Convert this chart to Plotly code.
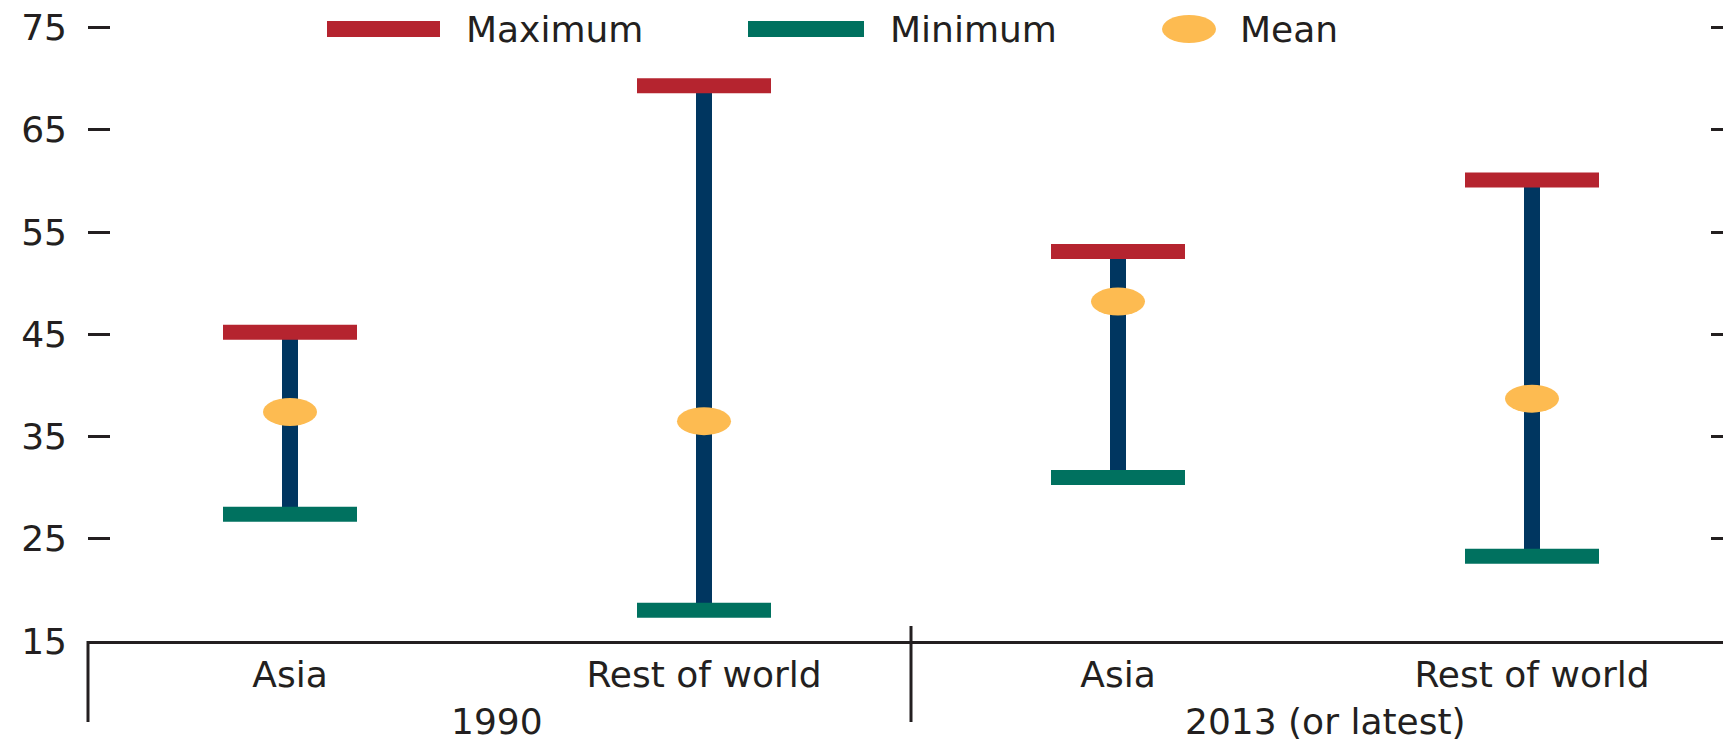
import plotly.graph_objects as go

# ---------------- data ----------------
regions = ["Asia", "Rest of world", "Asia", "Rest of world"]
periods = ["1990", "2013 (or latest)"]
maximum = [45.2, 69.3, 53.1, 60.1]
minimum = [27.4, 18.0, 31.0, 23.3]
mean = [37.4, 36.5, 48.2, 38.7]
y_ticks = [15, 25, 35, 45, 55, 65, 75]
legend_labels = ["Maximum", "Minimum", "Mean"]

# ---------------- geometry ----------------
OFF = 0  # body margin removed by post_script below
W, H = 1723 - OFF, 745 - OFF
Y_RANGE = [15, 75.15]
M_L, M_R, M_B = 88 - OFF, 0, H - (641 - OFF)
M_T = 26
PLOT_W = W - M_L - M_R
PLOT_H = H - M_T - M_B
PX_PER_X = 414.0
X0 = -((290 - OFF) - M_L) / PX_PER_X
X_RANGE = [X0, X0 + PLOT_W / PX_PER_X]
PX_PER_Y = PLOT_H / (Y_RANGE[1] - Y_RANGE[0])

RED = "#b5242f"
GREEN = "#00715f"
NAVY = "#003660"
GOLD = "#fdbb51"
TXT = "#231f20"
FONT = "DejaVu Sans"
FS = 36

CAP_HALF = 67 / PX_PER_X       # half width of max/min bars in x units
ELL_HX = 27 / PX_PER_X         # ellipse half width
ELL_HY = 14 / PX_PER_Y         # ellipse half height


def px_x(p):
    """reference-image x pixel -> paper coordinate"""
    return (p - OFF - M_L) / PLOT_W


def px_y(p):
    """reference-image y pixel (from top) -> paper coordinate"""
    return (H - M_B - (p - OFF)) / PLOT_H


pos = list(range(len(regions)))

fig = go.Figure()

# stems
sx, sy = [], []
for i in pos:
    sx += [i, i, None]
    sy += [minimum[i], maximum[i], None]
fig.add_trace(go.Scatter(x=sx, y=sy, mode="lines",
                         line=dict(color=NAVY, width=16), hoverinfo="skip",
                         showlegend=False))


def caps(vals, color, name):
    cx, cy = [], []
    for i in pos:
        cx += [i - CAP_HALF, i + CAP_HALF, None]
        cy += [vals[i], vals[i], None]
    fig.add_trace(go.Scatter(x=cx, y=cy, mode="lines", name=name,
                             line=dict(color=color, width=15),
                             showlegend=False))


caps(maximum, RED, "Maximum")
caps(minimum, GREEN, "Minimum")

# invisible trace for right axis
fig.add_trace(go.Scatter(x=[None], y=[None], yaxis="y2", showlegend=False))

shapes = []
# mean ellipses
for i in pos:
    shapes.append(dict(type="circle", xref="x", yref="y",
                       x0=i - ELL_HX, x1=i + ELL_HX,
                       y0=mean[i] - ELL_HY, y1=mean[i] + ELL_HY,
                       fillcolor=GOLD, line=dict(width=0), layer="above"))

# group dividers below axis
shapes.append(dict(type="line", xref="paper", yref="paper",
                   x0=0, x1=0, y0=0, y1=px_y(722),
                   line=dict(color=TXT, width=3)))
shapes.append(dict(type="line", xref="x", yref="paper",
                   x0=1.5, x1=1.5, y0=px_y(626), y1=px_y(722),
                   line=dict(color=TXT, width=3)))

# custom legend
shapes.append(dict(type="rect", xref="paper", yref="paper",
                   x0=px_x(327), x1=px_x(440), y0=px_y(37), y1=px_y(21),
                   fillcolor=RED, line=dict(width=0)))
shapes.append(dict(type="rect", xref="paper", yref="paper",
                   x0=px_x(748), x1=px_x(864), y0=px_y(37), y1=px_y(21),
                   fillcolor=GREEN, line=dict(width=0)))
shapes.append(dict(type="circle", xref="paper", yref="paper",
                   x0=px_x(1162), x1=px_x(1216), y0=px_y(43), y1=px_y(15),
                   fillcolor=GOLD, line=dict(width=0)))

annotations = []
for lab, xp in zip(legend_labels, [464, 888, 1238]):
    annotations.append(dict(text=lab, xref="paper", yref="paper",
                            x=px_x(xp), y=px_y(29), xanchor="left",
                            yanchor="middle", showarrow=False,
                            font=dict(family=FONT, size=FS, color=TXT)))

# period group labels
for k, per in enumerate(periods):
    annotations.append(dict(text=per, xref="x", yref="paper",
                            x=2 * k + 0.5, y=px_y(721), xanchor="center",
                            yanchor="middle", showarrow=False,
                            font=dict(family=FONT, size=FS, color=TXT)))

fig.update_layout(
    width=W, height=H,
    margin=dict(l=M_L, r=M_R, t=M_T, b=M_B, pad=0),
    paper_bgcolor="white", plot_bgcolor="white",
    font=dict(family=FONT, size=FS, color=TXT),
    showlegend=False,
    shapes=shapes, annotations=annotations,
    xaxis=dict(range=X_RANGE, tickvals=pos, ticktext=regions,
               ticks="", showgrid=False, zeroline=False,
               showline=True, linecolor=TXT, linewidth=2.5,
               ticklabelstandoff=0,
               tickfont=dict(family=FONT, size=FS, color=TXT)),
    yaxis=dict(range=Y_RANGE, tickvals=y_ticks, ticks="inside",
               ticklen=22, tickwidth=2.5, tickcolor=TXT,
               showgrid=False, zeroline=False, showline=False,
               ticklabelstandoff=20, ticklabeloverflow="allow",
               tickfont=dict(family=FONT, size=FS, color=TXT)),
    yaxis2=dict(range=Y_RANGE, tickvals=y_ticks, overlaying="y",
                side="right", ticks="inside", ticklen=12, tickwidth=2.5,
                tickcolor=TXT, showticklabels=False, showgrid=False,
                zeroline=False, showline=False),
)

fig.write_html(
    "out.html",
    config={"displayModeBar": False},
    post_script="document.body.style.margin='0';"
                "document.body.style.overflow='hidden';",
)
